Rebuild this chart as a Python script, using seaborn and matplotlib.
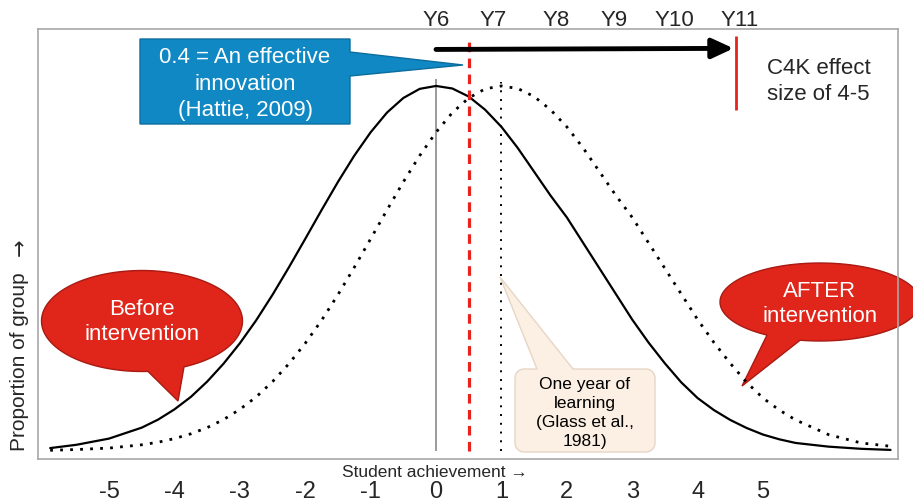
import numpy as np
import pandas as pd
import matplotlib
matplotlib.use("Agg")
import matplotlib.pyplot as plt
import seaborn as sns
from matplotlib.patches import Polygon
from matplotlib.transforms import Affine2D

# values (curve heights scaled so the peak = 1)
achievement = [-5.9, -5.5, -5.0, -4.5, -4.25, -4.0, -3.75, -3.5, -3.25, -3.0, -2.75, -2.5, -2.25, -2.0,
               -1.75, -1.5, -1.25, -1.0, -0.75, -0.5, -0.25, 0.0, 0.25, 0.5, 0.75, 1.0, 1.25, 1.5, 1.75,
               2.0, 2.25, 2.5, 2.75, 3.0, 3.25, 3.5, 3.75, 4.0, 4.25, 4.5, 4.75, 5.0, 5.25, 5.5, 6.0,
               6.5, 6.95]
before = [0.008, 0.017, 0.034, 0.064, 0.086, 0.114, 0.148, 0.19, 0.239, 0.295, 0.358, 0.428, 0.503, 0.581,
          0.66, 0.737, 0.809, 0.873, 0.927, 0.967, 0.992, 1.0, 0.993, 0.971, 0.935, 0.888, 0.83, 0.765, 0.70,
          0.64, 0.57, 0.50, 0.43, 0.36, 0.297, 0.24, 0.188, 0.145, 0.112, 0.085, 0.063, 0.045, 0.032, 0.022, 0.012,
          0.006, 0.003]
after = [0.002, 0.004, 0.008, 0.017, 0.024, 0.034, 0.047, 0.064, 0.086, 0.114, 0.148, 0.19, 0.239, 0.295,
         0.358, 0.428, 0.503, 0.581, 0.66, 0.737, 0.809, 0.873, 0.927, 0.967, 0.992, 1.0, 0.993, 0.971, 0.935,
         0.888, 0.83, 0.765, 0.70, 0.64, 0.57, 0.50, 0.43, 0.36, 0.297, 0.24, 0.188, 0.145, 0.112, 0.085, 0.045,
         0.022, 0.013]

tick_values = [-5, -4, -3, -2, -1, 0, 1, 2, 3, 4, 5]
year_labels = ["Y6", "Y7", "Y8", "Y9", "Y10", "Y11"]
year_pos = [0.0, 0.88, 1.83, 2.73, 3.65, 4.64]
mean_before = 0.0
hattie_effect = 0.5
one_year = 1.0
c4k_effect = 4.59

df = pd.DataFrame({"x": achievement, "before": before, "after": after})

sns.set_style("white")
plt.rcParams["font.family"] = ["Liberation Sans", "DejaVu Sans"]

W, H = 913, 502
fig = plt.figure(figsize=(W / 100, H / 100), dpi=100)
ax = fig.add_axes([38 / W, 1 - 460 / H, 860 / W, 430 / H])
px = Affine2D().scale(1 / W, -1 / H).translate(0, 1) + fig.transFigure

sns.lineplot(data=df, x="x", y="before", ax=ax, color="black", lw=1.6, zorder=4)
sns.lineplot(data=df, x="x", y="after", ax=ax, color="black", lw=2.0,
             linestyle=(0, (1.0, 2.6)), zorder=4)

ax.vlines(mean_before, 0, 1.02, color="#8a8a8a", lw=1.2, zorder=3)
ax.vlines(one_year, 0, 1.01, color="black", lw=1.4, linestyles=[(0, (1, 3.5))], zorder=3)
ax.vlines(hattie_effect, 0, 1.13, color="#e8231b", lw=2.3, linestyles=[(0, (3, 2))], zorder=5)
ax.vlines(c4k_effect, 0.935, 1.137, color="#e8231b", lw=2.0, zorder=5)
ax.annotate("", xy=(c4k_effect - 0.04, 1.103), xytext=(mean_before, 1.10),
            arrowprops=dict(arrowstyle="-|>,head_length=1.3,head_width=0.6", lw=3.5,
                            color="black", shrinkA=0, shrinkB=0, mutation_scale=10),
            annotation_clip=False, zorder=6)

for lab, xp in zip(year_labels, year_pos):
    ax.text(xp, 1.181, lab, ha="center", va="center", fontsize=16, clip_on=False)

ax.text(5.06, 1.016, "C4K effect\nsize of 4-5", ha="left", va="center", fontsize=16, linespacing=1.3)

ax.set_xlim(-6.086, 7.064)
ax.set_ylim(-0.0219, 1.156)
ax.set_yticks([])
ax.set_xticks(tick_values)
ax.set_xticklabels([str(t) for t in tick_values], fontsize=17,
                   family=["Liberation Sans Narrow", "Liberation Sans", "DejaVu Sans"])
ax.tick_params(axis="x", length=0, pad=15)
ax.set_xlabel("Student achievement \u2192", fontsize=12.5)
ax.xaxis.set_label_coords(0.461, -0.028)
ax.xaxis.label.set_va("center")
ax.set_ylabel("Proportion of group", fontsize=15)
ax.yaxis.set_label_coords(-0.021, 0.229)
ax.yaxis.label.set_va("center")
fig.text(20 / W, 1 - 247 / H, "\u2192", rotation=90, ha="center", va="center", fontsize=15,
         family=["DejaVu Sans"])
for s in ax.spines.values():
    s.set_color("#a8a8a8")
    s.set_linewidth(1.2)


def bubble(cx, cy, a, b, t_from, t_to, tip):
    t = np.radians(np.linspace(t_from, t_to, 120))
    pts = np.column_stack([cx + a * np.cos(t), cy + b * np.sin(t)])
    return np.vstack([pts, [tip]])


def round_box(x0, y0, x1, y1, r, tail_l, tail_r, tip):
    pts = [(x0 + r, y0), (tail_l, y0), tip, (tail_r, y0), (x1 - r, y0)]
    corners = [(x1 - r, y0 + r, -90), (x1 - r, y1 - r, 0), (x0 + r, y1 - r, 90), (x0 + r, y0 + r, 180)]
    for ccx, ccy, start in corners:
        for t in np.radians(np.linspace(start, start + 90, 10)):
            pts.append((ccx + r * np.cos(t), ccy + r * np.sin(t)))
    return np.array(pts)


red = "#e0251a"
# blue callout
blue_pts = [(140, 40), (350, 40), (350, 53), (463, 66), (350, 77), (350, 125), (140, 125)]
ax.add_patch(Polygon(blue_pts, closed=True, transform=px, facecolor="#1088c4",
                     edgecolor="#0b6d9e", lw=1, clip_on=False, zorder=2))
fig.text(245 / W, 1 - 84 / H, "0.4 = An effective\ninnovation\n(Hattie, 2009)", color="white",
         ha="center", va="center", fontsize=16, linespacing=1.32, zorder=7)

# red speech bubbles
ax.add_patch(Polygon(bubble(142, 322, 100.5, 50.5, 86.6, 425.3, (178, 402)), closed=True,
                     transform=px, facecolor=red, edgecolor="#a81a12", lw=1, clip_on=False, zorder=2))
fig.text(142 / W, 1 - 322 / H, "Before\nintervention", color="white", ha="center", va="center",
         fontsize=16, linespacing=1.3, zorder=7)
ax.add_patch(Polygon(bubble(820, 303, 100, 39, 122, 461.5, (742, 387)), closed=True,
                     transform=px, facecolor=red, edgecolor="#a81a12", lw=1, clip_on=False, zorder=2))
fig.text(820 / W, 1 - 304 / H, "AFTER\nintervention", color="white", ha="center", va="center",
         fontsize=16, linespacing=1.3, zorder=7)

# beige callout
ax.add_patch(Polygon(round_box(515, 370, 655, 453, 9, 537, 573, (500, 278)), closed=True,
                     transform=px, facecolor="#fcefe3", edgecolor="#e6d6c6", lw=1, clip_on=False, zorder=2))
fig.text(585 / W, 1 - 413 / H, "One year of\nlearning\n(Glass et al.,\n1981)", color="black",
         ha="center", va="center", fontsize=12.5, linespacing=1.33, zorder=7)

fig.savefig("out.png", dpi=100)
